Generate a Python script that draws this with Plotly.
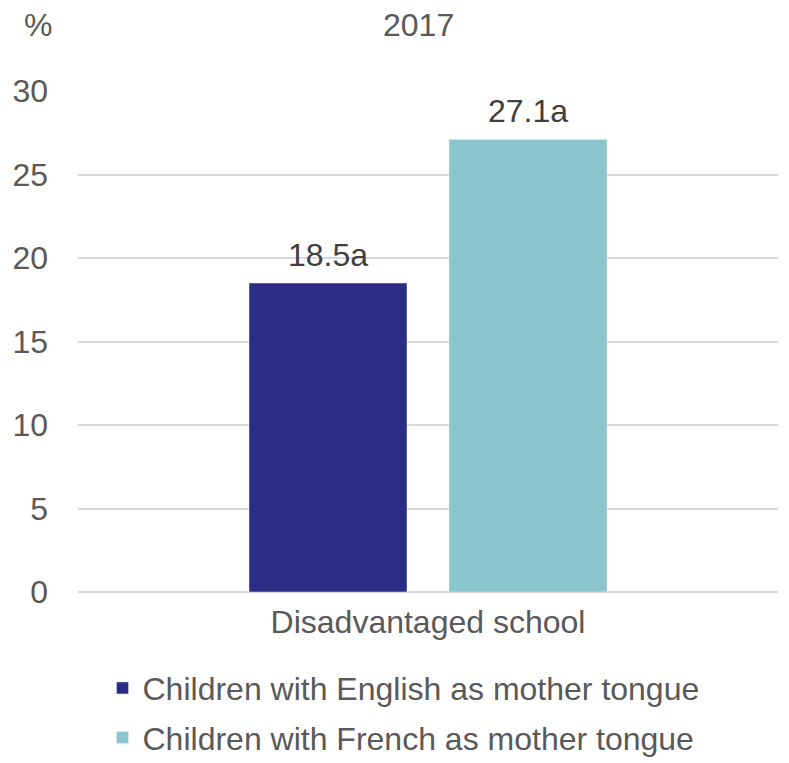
import plotly.graph_objects as go

categories = ["Disadvantaged school"]
series_names = ["Children with English as mother tongue", "Children with French as mother tongue"]
english_values = [18.5]
french_values = [27.1]
english_labels = ["18.5a"]
french_labels = ["27.1a"]
colors = ["#2B2C85", "#8BC6CE"]
y_ticks = [0, 5, 10, 15, 20, 25, 30]

FONT = "Liberation Sans, Arial, sans-serif"
FS = 32

fig = go.Figure()
series = [
    (series_names[0], english_values, english_labels, colors[0], -100),
    (series_names[1], french_values, french_labels, colors[1], 100),
]
annotations = []
for i, (name, vals, labs, col, xs) in enumerate(series):
    fig.add_trace(go.Bar(
        x=categories, y=vals, name=name, marker_color=col, legendgroup=f"g{i}",
    ))
    for c, v, t in zip(categories, vals, labs):
        annotations.append(dict(
            x=c, y=v, xref="x", yref="y", text=t, showarrow=False,
            xanchor="center", yanchor="bottom", xshift=xs, yshift=8,
            font=dict(family=FONT, size=FS, color="#404040"),
        ))

annotations += [
    dict(text="2017", xref="paper", yref="paper", x=0.486, y=1.0, yshift=66,
         showarrow=False, xanchor="center", yanchor="middle",
         font=dict(family=FONT, size=FS, color="#595959")),
    dict(text="%", xref="paper", x=-0.057, y=1.0, yref="paper", yshift=66,
         showarrow=False, xanchor="center", yanchor="middle",
         font=dict(family=FONT, size=FS, color="#595959")),
]

# page body has an 8px default margin, so the figure is offset by 8px
fig.update_layout(
    width=781, height=755,
    paper_bgcolor="white", plot_bgcolor="white",
    margin=dict(l=70, r=11, t=83, b=171, autoexpand=False),
    barmode="group", bargap=0.4286, bargroupgap=0.21,
    font=dict(family=FONT, color="#595959", size=FS),
    showlegend=True,
    legend=dict(orientation="v", x=0.035, xanchor="left", y=-0.137, yanchor="top",
                font=dict(family=FONT, size=FS, color="#595959"),
                itemwidth=30, tracegroupgap=5, bgcolor="rgba(0,0,0,0)"),
    annotations=annotations,
)
fig.update_yaxes(range=[0, 30], tickvals=y_ticks, showgrid=True, gridcolor="#D9D9D9",
                 gridwidth=1.5, zeroline=True, zerolinecolor="#D9D9D9", zerolinewidth=1.5,
                 ticks="", ticklabelstandoff=29, showline=False, automargin=False,
                 tickfont=dict(family=FONT, size=FS, color="#595959"))
fig.update_xaxes(showline=False, ticks="", ticklabelstandoff=8, automargin=False,
                 tickfont=dict(family=FONT, size=FS, color="#595959"))

fig.write_html("out.html")
